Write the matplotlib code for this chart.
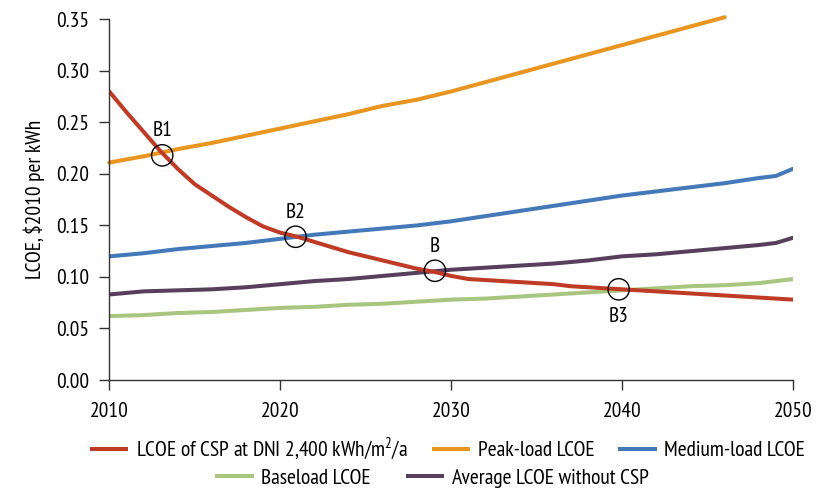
import matplotlib.pyplot as plt
from matplotlib.lines import Line2D

plt.rcParams['font.family'] = ['PT Sans Narrow', 'DejaVu Sans']
plt.rcParams['mathtext.fontset'] = 'custom'
plt.rcParams['mathtext.rm'] = 'PT Sans Narrow'

# LCOE projections, $2010 per kWh
csp_years = list(range(2010, 2051))
csp_lcoe = [0.280, 0.260, 0.241, 0.222, 0.205, 0.190, 0.179, 0.168, 0.158, 0.149,
            0.143, 0.139, 0.134, 0.129, 0.124, 0.120, 0.116, 0.112, 0.108, 0.105,
            0.101, 0.098, 0.097, 0.096, 0.095, 0.094, 0.093, 0.091, 0.090, 0.089,
            0.088, 0.087, 0.086, 0.085, 0.084, 0.083, 0.082, 0.081, 0.080, 0.079,
            0.078]

peak_years = list(range(2010, 2047, 2))
peak_lcoe = [0.211, 0.217, 0.224, 0.230, 0.237, 0.244, 0.251, 0.258, 0.266, 0.272,
             0.280, 0.289, 0.298, 0.307, 0.316, 0.325, 0.334, 0.343, 0.352]

medium_years = list(range(2010, 2049, 2)) + [2049, 2050]
medium_lcoe = [0.120, 0.123, 0.127, 0.130, 0.133, 0.137, 0.141, 0.144, 0.147, 0.150,
               0.154, 0.159, 0.164, 0.169, 0.174, 0.179, 0.183, 0.187, 0.191, 0.196,
               0.198, 0.205]

base_years = list(range(2010, 2051, 2))
base_lcoe = [0.062, 0.063, 0.065, 0.066, 0.068, 0.070, 0.071, 0.073, 0.074, 0.076,
             0.078, 0.079, 0.081, 0.083, 0.085, 0.087, 0.089, 0.091, 0.092, 0.094,
             0.098]

avg_years = list(range(2010, 2049, 2)) + [2049, 2050]
avg_lcoe = [0.083, 0.086, 0.087, 0.088, 0.090, 0.093, 0.096, 0.098, 0.101, 0.104,
            0.107, 0.109, 0.111, 0.113, 0.116, 0.120, 0.122, 0.125, 0.128, 0.131,
            0.133, 0.138]

# break-even points
be_labels = ['B1', 'B2', 'B', 'B3']
be_years = [2013.1, 2020.9, 2029.05, 2039.8]
be_values = [0.218, 0.139, 0.106, 0.088]

red = '#bf3b26'
orange = '#e9951f'
blue = '#4479b9'
green = '#a8c67f'
purple = '#58405c'

fig = plt.figure(figsize=(8.17, 4.92), dpi=100)
ax = fig.add_axes([0.1337, 0.2276, 0.8370, 0.7332])

lw = 2.9
ax.plot(base_years, base_lcoe, color=green, lw=lw, solid_capstyle='round')
ax.plot(avg_years, avg_lcoe, color=purple, lw=lw, solid_capstyle='round')
ax.plot(medium_years, medium_lcoe, color=blue, lw=lw, solid_capstyle='round')
ax.plot(peak_years, peak_lcoe, color=orange, lw=lw, solid_capstyle='round',
        clip_on=False)
ax.plot(csp_years, csp_lcoe, color=red, lw=lw, solid_capstyle='round')

ax.scatter(be_years, be_values, s=235, facecolors='none', edgecolors='black',
           linewidths=1.0, zorder=5)
for lab, x, y in zip(be_labels, be_years, be_values):
    dy = -0.026 if lab == 'B3' else 0.024
    ax.text(x, y + dy, lab, ha='center', va='center', fontsize=15.5, zorder=6)

ax.set_xlim(2010, 2050)
ax.set_ylim(0, 0.35)
ax.set_xticks([2010, 2020, 2030, 2040, 2050])
ax.set_yticks([0.0, 0.05, 0.10, 0.15, 0.20, 0.25, 0.30, 0.35])
ax.set_yticklabels([f'{v:.2f}' for v in ax.get_yticks()])
ax.tick_params(axis='both', labelsize=15.5, direction='out', length=7.5, width=1,
               color='#333333', pad=7)
ax.tick_params(axis='x', pad=8)
for side in ['top', 'right']:
    ax.spines[side].set_visible(False)
for side in ['left', 'bottom']:
    ax.spines[side].set_color('#333333')
    ax.spines[side].set_linewidth(1)

ax.set_ylabel('LCOE, $2010 per kWh', fontsize=15.5, labelpad=8)

def handle(c):
    return Line2D([], [], color=c, lw=lw)

leg1 = fig.legend([handle(red), handle(orange), handle(blue)],
                  ['LCOE of CSP at DNI 2,400 kWh/m$^2$/a', 'Peak-load LCOE',
                   'Medium-load LCOE'],
                  loc='center', bbox_to_anchor=(0.549, 0.088), ncol=3,
                  frameon=False, fontsize=15.5, handlelength=1.6,
                  handletextpad=0.45, columnspacing=1.2, borderaxespad=0,
                  borderpad=0)
leg2 = fig.legend([handle(green), handle(purple)],
                  ['Baseload LCOE', 'Average LCOE without CSP'],
                  loc='center', bbox_to_anchor=(0.53, 0.028), ncol=2,
                  frameon=False, fontsize=15.5, handlelength=1.6,
                  handletextpad=0.45, columnspacing=1.7, borderaxespad=0,
                  borderpad=0)

fig.savefig('out.png', dpi=100)
